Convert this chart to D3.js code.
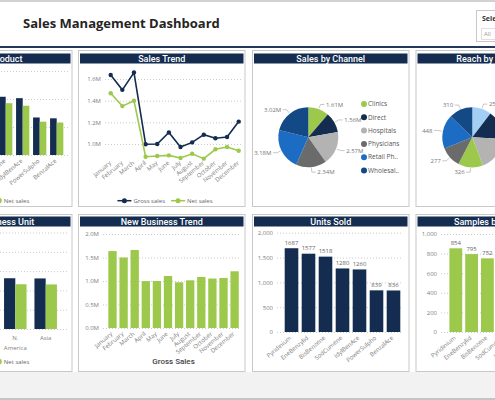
<!DOCTYPE html>
<html><head><meta charset="utf-8">
<script src="https://cdn.jsdelivr.net/npm/d3@7"></script>
<style>
html,body{margin:0;padding:0;background:#fff;overflow:hidden}
svg{display:block}
</style></head><body>
<svg id="c" width="495" height="400"></svg>
<script>
// ---------- DATA ----------
const months = ["January","February","March","April","May","June","July","August","September","October","November","December"];
const grossSales = [1.637,1.50,1.66,0.998,1.0,1.106,0.972,1.015,1.086,1.053,1.065,1.207]; // millions
const netSales = [1.468,1.35,1.40,0.883,0.889,0.895,0.871,0.91,0.865,0.951,0.972,0.938];
const products = ["Pyridinium","EneBenzylid","BisBenzene","SodCumene","IdylBenAce","PowerSulpho","BenzalAce"];
const productGross = [2.73,2.55,2.46,2.08,2.03,1.34,1.31];
const productNet = [2.38,2.22,2.14,1.85,1.76,1.19,1.16];
const unitsSold = [1687,1577,1518,1280,1260,839,836];
const samples = [854,795,752,640,628,421,416];
const channels = ["Clinics","Direct","Hospitals","Physicians","Retail Pharmacies","Wholesalers"];
const channelSales = [1.61,1.56,2.57,2.34,3.18,3.02];
const reachGroups = ["Allergy","Cardiology","Dermatology","Oncology","Pediatrics","General Practice","Neurology"];
const reachValues = [252,380,450,326,277,448,310];
const businessUnits = ["Europe","Africa","N. America","Asia"];
const unitGross = [4.62,4.33,2.63,2.62];
const unitNet = [4.08,3.81,2.32,2.31];
const seriesNames = ["Gross sales","Net sales"];
const yTrendTicks = [1.0,1.2,1.4,1.6];
const yNewTicks = [0,0.5,1.0,1.5,2.0];
const yUnitsTicks = [0,500,1000,1500,2000];
const ySamplesTicks = [0,200,400,600,800,1000];

// ---------- STYLE ----------
const NAVY = "#132c50", GREEN = "#9cc94c";
const channelColors = ["#9cc94c","#132c50","#b3b3b3","#6b6b6b","#1c6cc4","#134a86"];
const reachColors = ["#a3cff5","#132c50","#b3b3b3","#9cc94c","#6b6b6b","#1c6cc4","#134a86"];
const FONT = "'Open Sans','Noto Sans',sans-serif";
const TFONT = "Roboto,'Open Sans',sans-serif";
const svg = d3.select("#c");

svg.append("rect").attr("width",495).attr("height",400).attr("fill","#fff");
svg.append("rect").attr("width",495).attr("height",2).attr("fill","#d2d2d2");
svg.append("text").attr("x",23).attr("y",28).text("Sales Management Dashboard")
  .attr("fill","#252423").style("font-family",FONT).style("font-size","13px").style("font-weight",700);
// slicer
svg.append("rect").attr("x",476.5).attr("y",10.5).attr("width",40).attr("height",31).attr("fill","#fff").attr("stroke","#c8c8c8");
svg.append("text").attr("x",482).attr("y",21).text("Select Region").attr("fill","#333").style("font-family",FONT).style("font-size","7px").style("font-weight",700);
svg.append("rect").attr("x",481.5).attr("y",28.5).attr("width",40).attr("height",11).attr("fill","#fff").attr("stroke","#e0e0e0");
svg.append("text").attr("x",484).attr("y",34).attr("dy","0.35em").text("All").attr("fill","#999").style("font-family",FONT).style("font-size","6px");
svg.append("rect").attr("y",46).attr("width",495).attr("height",2).attr("fill","#22395c");
// bottom strip
svg.append("rect").attr("y",372).attr("width",495).attr("height",26).attr("fill","#f2f2f2");
svg.append("rect").attr("y",398).attr("width",495).attr("height",2).attr("fill","#c4c4c4");

function panel(x0,y0,x1,y1,hy,title){
  const g = svg.append("g");
  g.append("rect").attr("x",x0+0.5).attr("y",y0+0.5).attr("width",x1-x0-1).attr("height",y1-y0-1)
    .attr("fill","#fff").attr("stroke","#c8c8c8");
  g.append("rect").attr("x",x0+2).attr("y",hy).attr("width",x1-x0-4).attr("height",10).attr("fill",NAVY);
  g.append("text").attr("x",(x0+x1)/2).attr("y",hy+5.3).attr("dy","0.35em").attr("text-anchor","middle")
    .attr("fill","#fff").style("font-family",TFONT).style("font-size","9px").style("font-weight",500).text(title);
  return g;
}
function yAxis(g,scale,x,width,ticks,fmt){
  const ax = g.append("g").attr("transform",`translate(${x},0)`)
    .call(d3.axisLeft(scale).tickValues(ticks).tickSize(-width).tickPadding(4).tickFormat(fmt));
  ax.select(".domain").remove();
  ax.selectAll(".tick line").attr("stroke","#cccccc").attr("stroke-dasharray","1,2");
  ax.selectAll(".tick text").attr("fill","#808080").style("font-family",FONT).style("font-size","6px");
  return ax;
}
function xAxisRot(g,scale,y){
  const ax = g.append("g").attr("transform",`translate(0,${y})`).call(d3.axisBottom(scale).tickSize(0));
  ax.select(".domain").remove();
  ax.selectAll(".tick text").attr("x",0).attr("y",0).attr("dy","0.35em")
    .attr("transform","translate(-1,5) rotate(-40)").attr("text-anchor","end")
    .attr("fill","#808080").style("font-family",FONT).style("font-size","6px");
  return ax;
}
function dotLegend(g,cx,y,items){
  const lg = g.append("g");
  let x = 0;
  items.forEach(it=>{
    lg.append("circle").attr("cx",x+3).attr("cy",y).attr("r",3).attr("fill",it.color);
    const t = lg.append("text").attr("x",x+8).attr("y",y).attr("dy","0.35em").text(it.name)
      .attr("fill","#666").style("font-family",FONT).style("font-size","6px");
    x += 8 + t.node().getComputedTextLength() + 8;
  });
  lg.attr("transform",`translate(${cx-(x-8)/2},0)`);
}
function lineLegend(g,cx,y,items){
  const lg = g.append("g");
  let x = 0;
  items.forEach(it=>{
    lg.append("line").attr("x1",x).attr("x2",x+14).attr("y1",y).attr("y2",y).attr("stroke",it.color).attr("stroke-width",1.5);
    lg.append("circle").attr("cx",x+7).attr("cy",y).attr("r",2.5).attr("fill",it.color);
    const t = lg.append("text").attr("x",x+16).attr("y",y).attr("dy","0.35em").text(it.name)
      .attr("fill","#666").style("font-family",FONT).style("font-size","6px");
    x += 16 + t.node().getComputedTextLength() + 6;
  });
  lg.attr("transform",`translate(${cx-(x-6)/2},0)`);
}
function groupedBars(g,x,y,cats,a,b){
  const xi = d3.scaleBand().domain([0,1]).range([0,x.bandwidth()]);
  cats.forEach((c,i)=>{
    [a[i],b[i]].forEach((v,k)=>{
      g.append("rect").attr("x",x(c)+xi(k)).attr("width",xi.bandwidth()).attr("y",y(v))
        .attr("height",y(0)-y(v)).attr("fill",k===0?NAVY:GREEN);
    });
  });
}
function pie(g,cx,cy,r,values,colors,fmt){
  const arcs = d3.pie().sort(null).value(d=>d)(values);
  const arc = d3.arc().innerRadius(0).outerRadius(r);
  g.append("g").attr("transform",`translate(${cx},${cy})`).selectAll("path").data(arcs).join("path")
    .attr("d",arc).attr("fill",(d,i)=>colors[i]);
  arcs.forEach((a,i)=>{
    const m = (a.startAngle+a.endAngle)/2;
    const s = Math.sin(m), c = -Math.cos(m);
    const p1 = [cx+(r+1)*s, cy+(r+1)*c], p2 = [cx+(r+5)*s, cy+(r+5)*c];
    const dir = s>=0?1:-1;
    const p3 = [p2[0]+dir*4, p2[1]];
    g.append("polyline").attr("points",[p1,p2,p3].map(p=>p.join(",")).join(" "))
      .attr("fill","none").attr("stroke","#b0b0b0").attr("stroke-width",0.7);
    g.append("text").attr("x",p3[0]+dir*1.5).attr("y",p3[1]).attr("dy","0.35em").attr("text-anchor",dir>0?"start":"end")
      .attr("fill","#777").style("font-family",FONT).style("font-size","6px").text(fmt(values[i]));
  });
}

// ---------- Row 1 ----------
const p1 = panel(-95,50,72.5,207,53.5,"Sales by Product");
const xP = d3.scaleBand().domain(products).range([-53.8,65.2]).paddingInner(0.22).paddingOuter(0.11);
const yP = d3.scaleLinear().domain([0,3]).range([155,71]);
yAxis(p1,yP,-56,126,[0,1,2,3],d=>d+"M");
groupedBars(p1,xP,yP,products,productGross,productNet);
xAxisRot(p1,xP,155);
dotLegend(p1,-11.25,200.7,[{name:seriesNames[0],color:NAVY},{name:seriesNames[1],color:GREEN}]);

const p2 = panel(78,50,245.5,207,53.5,"Sales Trend");
const xT = d3.scalePoint().domain(months).range([110.7,238.7]);
const yT = d3.scaleLinear().domain([0.85,1.7]).range([160.25,68.2]);
yAxis(p2,yT,105,137,yTrendTicks,d=>d.toFixed(1)+"M");
const line = d3.line().x((d,i)=>xT(months[i])).y(d=>yT(d));
[[grossSales,NAVY],[netSales,GREEN]].forEach(([arr,col])=>{
  p2.append("path").attr("d",line(arr)).attr("fill","none").attr("stroke",col).attr("stroke-width",1.6);
  p2.append("g").selectAll("circle").data(arr).join("circle")
    .attr("cx",(d,i)=>xT(months[i])).attr("cy",d=>yT(d)).attr("r",2.2).attr("fill",col);
});
xAxisRot(p2,xT,157);
lineLegend(p2,165,200.7,[{name:seriesNames[0],color:NAVY},{name:seriesNames[1],color:GREEN}]);

const p3 = panel(252,50,409.5,207,53.5,"Sales by Channel");
pie(p3,308.3,137.3,30,channelSales,channelColors,d=>d.toFixed(2)+"M");
channels.forEach((c,i)=>{
  const yy = 104+13.3*i;
  p3.append("circle").attr("cx",364).attr("cy",yy).attr("r",3).attr("fill",channelColors[i]);
  const t = p3.append("text").attr("x",368).attr("y",yy).attr("dy","0.35em").text(c)
    .attr("fill","#555").style("font-family",FONT).style("font-size","6.5px");
  let s = c;
  while (t.node().getComputedTextLength() > 33 && s.length > 1) { s = s.slice(0,-1); t.text(s.trimEnd()+".."); }
});

const p4 = panel(415.5,50,573,207,53.5,"Reach by Specialty");
pie(p4,472.3,137.3,30,reachValues,reachColors,d=>String(d));

// ---------- Row 2 ----------
const p5 = panel(-95,214,72.5,372,216.5,"Sales by Business Unit");
const xU = d3.scaleBand().domain(businessUnits).range([-60.7,60.9]).paddingInner(0.26).paddingOuter(0.13);
const yU = d3.scaleLinear().domain([0,5]).range([329,232.5]);
yAxis(p5,yU,-63,132,[0,1,2,3,4,5],d=>d+"M");
groupedBars(p5,xU,yU,businessUnits,unitGross,unitNet);
const axU = p5.append("g").attr("transform","translate(0,329)").call(d3.axisBottom(xU).tickSize(0).tickPadding(7));
axU.select(".domain").remove();
axU.selectAll(".tick text").attr("fill","#808080").style("font-family",FONT).style("font-size","6px")
  .each(function(d){
    const words = d.split(" ");
    if (words.length>1){
      const t = d3.select(this).text(null);
      words.forEach((w,i)=>t.append("tspan").attr("x",0).attr("dy",i===0?"0.71em":"1.6em").text(w));
    }
  });
dotLegend(p5,-11.25,361.7,[{name:seriesNames[0],color:NAVY},{name:seriesNames[1],color:GREEN}]);

const p6 = panel(78,214,245.5,372,216.5,"New Business Trend");
const xN = d3.scaleBand().domain(months).range([106.95,240.15]).paddingInner(0.25).paddingOuter(0.125);
const yN = d3.scaleLinear().domain([0,2]).range([328,234]);
yAxis(p6,yN,103,138,yNewTicks,d=>d.toFixed(1)+"M");
p6.append("g").selectAll("rect").data(grossSales).join("rect")
  .attr("x",(d,i)=>xN(months[i])).attr("width",xN.bandwidth()).attr("y",d=>yN(d)).attr("height",d=>yN(0)-yN(d)).attr("fill",GREEN);
xAxisRot(p6,xN,328);
p6.append("text").attr("x",173.5).attr("y",364).attr("text-anchor","middle").text("Gross Sales")
  .attr("fill","#444").style("font-family",TFONT).style("font-size","8px").style("font-weight",500);

const p7 = panel(252,214,409.5,372,216.5,"Units Sold");
const xS = d3.scaleBand().domain(products).range([283,402]).paddingInner(0.2).paddingOuter(0.1);
const yS = d3.scaleLinear().domain([0,2000]).range([332,232.7]);
yAxis(p7,yS,277,126,yUnitsTicks,d3.format(","));
p7.append("g").selectAll("rect").data(unitsSold).join("rect")
  .attr("x",(d,i)=>xS(products[i])).attr("width",xS.bandwidth()).attr("y",d=>yS(d)).attr("height",d=>yS(0)-yS(d)).attr("fill",NAVY);
p7.append("g").selectAll("text").data(unitsSold).join("text")
  .attr("x",(d,i)=>xS(products[i])+xS.bandwidth()/2).attr("y",d=>yS(d)-3.5).attr("text-anchor","middle").text(d=>d)
  .attr("fill","#666").style("font-family",FONT).style("font-size","6px");
xAxisRot(p7,xS,332);

const p8 = panel(415.5,214,573,372,216.5,"Samples by Product");
const xM = d3.scaleBand().domain(products).range([447.9,558.5]).paddingInner(0.19).paddingOuter(0.095);
const yM = d3.scaleLinear().domain([0,1000]).range([332,234]);
yAxis(p8,yM,441,125,ySamplesTicks,d3.format(","));
p8.append("g").selectAll("rect").data(samples).join("rect")
  .attr("x",(d,i)=>xM(products[i])).attr("width",xM.bandwidth()).attr("y",d=>yM(d)).attr("height",d=>yM(0)-yM(d)).attr("fill",GREEN);
p8.append("g").selectAll("text").data(samples).join("text")
  .attr("x",(d,i)=>xM(products[i])+xM.bandwidth()/2).attr("y",d=>yM(d)-3.5).attr("text-anchor","middle").text(d=>d)
  .attr("fill","#666").style("font-family",FONT).style("font-size","6px");
xAxisRot(p8,xM,332);
</script>
</body></html>
